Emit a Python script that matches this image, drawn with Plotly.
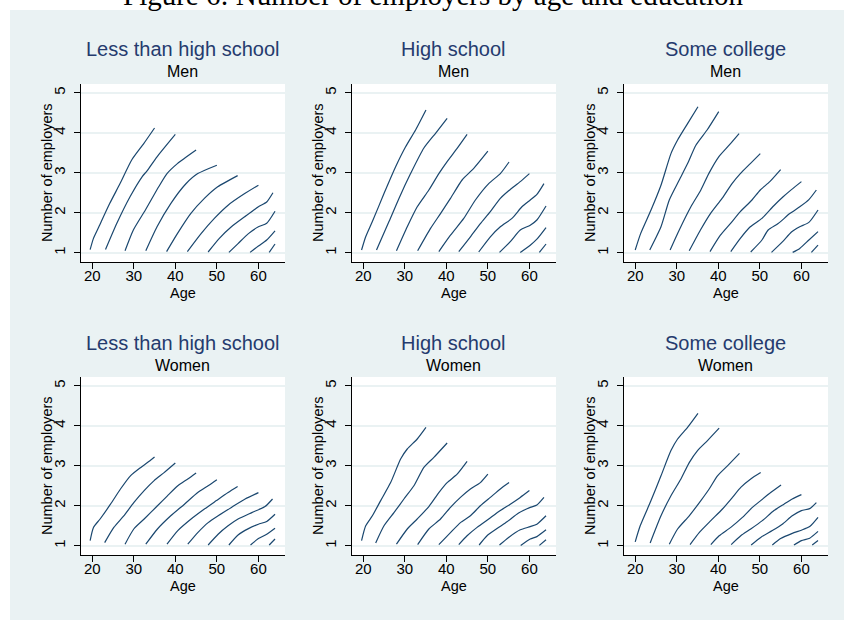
import plotly.graph_objects as go

# ---- data: average number of employers by age, one curve per birth cohort ----
TICK_AGES = [20, 30, 40, 50, 60]
TICK_EMP = [1, 2, 3, 4, 5]

LTHS_MEN_AGE = [
    [19.5, 20.3, 21.6, 24.2, 26.7, 29.5, 32.4, 35.0],
    [23.2, 25.9, 29.1, 32.0, 33.2, 35.6, 40.0],
    [27.9, 29.9, 32.8, 36.0, 38.0, 40.5, 45.0],
    [32.9, 35.6, 38.9, 42.5, 45.4, 50.0],
    [37.9, 40.5, 43.7, 47.0, 50.2, 55.0],
    [42.9, 46.2, 49.4, 52.7, 56.7, 60.0],
    [47.9, 50.6, 53.5, 56.7, 60.0, 62.0, 63.5],
    [52.9, 55.1, 57.6, 60.0, 62.0, 64.0],
    [58.0, 60.0, 62.0, 64.0],
    [62.6, 64.0],
]
LTHS_MEN_EMP = [
    [1.08, 1.36, 1.65, 2.23, 2.73, 3.32, 3.73, 4.12],
    [1.08, 1.73, 2.40, 2.90, 3.05, 3.40, 3.96],
    [1.05, 1.57, 2.07, 2.65, 2.98, 3.23, 3.57],
    [1.05, 1.65, 2.23, 2.72, 2.98, 3.19],
    [1.03, 1.48, 1.98, 2.36, 2.65, 2.93],
    [1.03, 1.48, 1.86, 2.19, 2.48, 2.69],
    [1.02, 1.36, 1.65, 1.90, 2.15, 2.27, 2.50],
    [1.01, 1.23, 1.48, 1.65, 1.74, 2.04],
    [1.01, 1.17, 1.32, 1.55],
    [1.01, 1.22],
]

HS_MEN_AGE = [
    [19.6, 20.6, 22.2, 25.0, 27.8, 30.2, 32.6, 35.1],
    [23.2, 26.2, 28.6, 31.4, 34.6, 37.5, 40.2],
    [28.0, 30.6, 33.0, 35.8, 38.2, 40.2, 42.6, 45.0],
    [33.1, 36.2, 38.6, 41.0, 43.8, 46.6, 50.0],
    [38.2, 41.0, 44.2, 47.0, 50.2, 53.0, 55.1],
    [43.0, 45.8, 48.2, 50.6, 53.0, 55.0, 57.8, 60.0],
    [47.8, 50.6, 53.0, 55.8, 58.2, 60.2, 61.8, 63.5],
    [52.8, 55.4, 57.8, 60.2, 61.8, 64.0],
    [57.8, 60.2, 61.8, 64.0],
    [62.4, 64.0],
]
HS_MEN_EMP = [
    [1.07, 1.40, 1.78, 2.48, 3.15, 3.65, 4.07, 4.57],
    [1.07, 1.78, 2.36, 2.98, 3.62, 4.00, 4.36],
    [1.05, 1.65, 2.15, 2.57, 2.98, 3.28, 3.61, 3.96],
    [1.05, 1.61, 1.98, 2.36, 2.82, 3.11, 3.54],
    [1.03, 1.44, 1.86, 2.32, 2.73, 2.98, 3.27],
    [1.03, 1.40, 1.73, 2.03, 2.36, 2.55, 2.78, 2.98],
    [1.02, 1.40, 1.65, 1.86, 2.15, 2.32, 2.46, 2.73],
    [1.01, 1.28, 1.57, 1.69, 1.82, 2.17],
    [1.01, 1.19, 1.34, 1.63],
    [1.01, 1.22],
]

SC_MEN_AGE = [
    [20.0, 21.3, 23.8, 26.2, 28.6, 30.2, 32.6, 35.1],
    [23.5, 26.2, 28.2, 30.6, 32.6, 34.6, 37.3, 40.1],
    [28.4, 30.6, 33.4, 35.8, 37.7, 40.1, 42.6, 45.0],
    [33.0, 35.7, 38.1, 40.9, 43.3, 45.3, 47.7, 50.1],
    [38.0, 40.5, 42.9, 45.3, 48.1, 50.1, 52.4, 55.0],
    [43.0, 45.3, 47.7, 50.5, 53.3, 55.6, 57.6, 60.0],
    [47.8, 50.5, 52.0, 54.4, 57.2, 59.6, 61.8, 63.6],
    [52.8, 55.6, 57.6, 59.6, 61.8, 64.0],
    [57.9, 59.6, 61.8, 64.0],
    [62.4, 64.0],
]
SC_MEN_EMP = [
    [1.07, 1.48, 2.07, 2.69, 3.48, 3.82, 4.23, 4.65],
    [1.07, 1.65, 2.32, 2.82, 3.23, 3.69, 4.07, 4.53],
    [1.07, 1.57, 2.15, 2.57, 2.98, 3.40, 3.69, 3.98],
    [1.05, 1.57, 1.98, 2.36, 2.73, 2.98, 3.23, 3.48],
    [1.03, 1.44, 1.73, 2.03, 2.32, 2.57, 2.78, 3.08],
    [1.03, 1.36, 1.65, 1.86, 2.17, 2.40, 2.58, 2.78],
    [1.02, 1.32, 1.57, 1.73, 1.98, 2.15, 2.33, 2.57],
    [1.01, 1.29, 1.52, 1.65, 1.76, 2.07],
    [1.01, 1.11, 1.32, 1.53],
    [1.01, 1.19],
]

LTHS_WOMEN_AGE = [
    [19.5, 20.3, 21.9, 24.4, 26.8, 29.2, 31.7, 33.3, 35.0],
    [23.0, 25.2, 27.6, 30.0, 32.5, 34.9, 37.3, 40.0],
    [27.9, 30.0, 32.5, 35.7, 38.1, 40.6, 43.0, 45.0],
    [32.9, 35.7, 38.9, 42.2, 45.4, 47.9, 50.0],
    [38.0, 40.6, 43.8, 47.0, 49.9, 52.7, 55.0],
    [43.0, 45.4, 47.9, 50.3, 53.5, 56.8, 60.0],
    [47.9, 50.3, 52.7, 55.1, 58.4, 61.6, 63.4],
    [52.9, 55.1, 57.6, 60.0, 62.0, 64.0],
    [58.1, 60.0, 62.0, 64.0],
    [62.6, 64.0],
]
LTHS_WOMEN_EMP = [
    [1.13, 1.46, 1.67, 2.04, 2.42, 2.75, 2.96, 3.08, 3.22],
    [1.08, 1.46, 1.75, 2.08, 2.38, 2.63, 2.83, 3.07],
    [1.04, 1.42, 1.67, 2.00, 2.25, 2.50, 2.67, 2.82],
    [1.04, 1.42, 1.75, 2.04, 2.33, 2.50, 2.65],
    [1.04, 1.38, 1.67, 1.92, 2.13, 2.33, 2.48],
    [1.04, 1.33, 1.58, 1.75, 1.96, 2.17, 2.33],
    [1.02, 1.29, 1.50, 1.67, 1.83, 1.98, 2.17],
    [1.02, 1.27, 1.43, 1.54, 1.61, 1.79],
    [1.02, 1.18, 1.29, 1.44],
    [1.02, 1.17],
]

HS_WOMEN_AGE = [
    [19.6, 20.6, 22.2, 24.2, 26.6, 29.0, 30.6, 33.0, 35.1],
    [23.0, 25.0, 27.4, 29.8, 32.2, 34.6, 37.0, 40.2],
    [28.0, 30.6, 33.0, 35.8, 38.2, 40.2, 42.6, 45.0],
    [33.1, 35.8, 38.6, 41.0, 43.4, 45.8, 48.2, 50.0],
    [38.2, 41.0, 43.4, 45.8, 48.2, 50.6, 53.0, 55.1],
    [43.0, 45.0, 47.4, 50.2, 53.0, 55.4, 57.8, 60.0],
    [47.9, 49.8, 52.2, 54.6, 57.4, 60.2, 61.8, 63.5],
    [52.8, 55.0, 57.8, 60.2, 61.8, 64.0],
    [57.9, 60.2, 61.8, 64.0],
    [62.4, 64.0],
]
HS_WOMEN_EMP = [
    [1.13, 1.50, 1.75, 2.13, 2.58, 3.17, 3.42, 3.67, 3.96],
    [1.07, 1.50, 1.83, 2.17, 2.50, 2.96, 3.21, 3.57],
    [1.04, 1.42, 1.67, 1.98, 2.33, 2.58, 2.79, 3.11],
    [1.03, 1.42, 1.67, 1.96, 2.21, 2.42, 2.58, 2.79],
    [1.03, 1.33, 1.58, 1.75, 2.00, 2.21, 2.42, 2.58],
    [1.03, 1.25, 1.46, 1.67, 1.88, 2.04, 2.21, 2.38],
    [1.02, 1.25, 1.43, 1.60, 1.82, 1.96, 2.02, 2.21],
    [1.02, 1.21, 1.40, 1.48, 1.54, 1.75],
    [1.01, 1.17, 1.23, 1.40],
    [1.01, 1.15],
]

SC_WOMEN_AGE = [
    [20.0, 21.2, 23.8, 26.2, 28.6, 30.2, 32.6, 35.1],
    [23.6, 26.2, 28.6, 31.0, 33.0, 35.0, 37.4, 40.2],
    [28.2, 30.2, 33.0, 35.8, 37.8, 39.8, 42.2, 45.1],
    [33.2, 35.4, 38.2, 41.0, 43.4, 45.4, 47.8, 50.2],
    [38.2, 40.2, 43.0, 45.8, 48.2, 50.2, 52.6, 55.1],
    [43.1, 45.4, 47.8, 50.6, 53.4, 55.8, 57.8, 60.0],
    [47.9, 50.2, 53.0, 55.4, 57.8, 60.0, 62.0, 63.6],
    [53.0, 55.0, 57.8, 60.0, 62.0, 64.0],
    [58.2, 60.0, 62.0, 64.0],
    [62.6, 64.0],
]
SC_WOMEN_EMP = [
    [1.10, 1.50, 2.13, 2.75, 3.38, 3.67, 3.96, 4.31],
    [1.07, 1.75, 2.25, 2.67, 3.08, 3.38, 3.63, 3.94],
    [1.04, 1.42, 1.75, 2.13, 2.42, 2.75, 3.00, 3.31],
    [1.03, 1.33, 1.63, 1.92, 2.21, 2.46, 2.67, 2.83],
    [1.03, 1.25, 1.46, 1.71, 1.96, 2.13, 2.33, 2.52],
    [1.03, 1.25, 1.42, 1.63, 1.88, 2.04, 2.17, 2.28],
    [1.02, 1.21, 1.38, 1.54, 1.75, 1.88, 1.93, 2.08],
    [1.02, 1.18, 1.31, 1.39, 1.48, 1.71],
    [1.02, 1.13, 1.19, 1.36],
    [1.02, 1.13],
]

EDUCATION = ["Less than high school", "High school", "Some college"]
SEX = ["Men", "Women"]

PANELS = [
    (LTHS_MEN_AGE, LTHS_MEN_EMP), (HS_MEN_AGE, HS_MEN_EMP), (SC_MEN_AGE, SC_MEN_EMP),
    (LTHS_WOMEN_AGE, LTHS_WOMEN_EMP), (HS_WOMEN_AGE, HS_WOMEN_EMP), (SC_WOMEN_AGE, SC_WOMEN_EMP),
]

# ---- layout geometry (pixels) ----
W, H = 844, 620
COL_PX = [(81, 285), (352, 556), (624, 828)]
ROW_PX = [(84, 262), (377, 555)]

LINE_COLOR = "#1a476f"
TITLE_COLOR = "#253b6e"
GRAPH_BG = "#eaf2f3"
FONT = "Liberation Sans"


def px_x(p):
    return p / W


def px_y(p):
    return 1 - p / H


fig = go.Figure()
layout = dict(
    width=W, height=H,
    margin=dict(l=0, r=0, t=0, b=0),
    paper_bgcolor=GRAPH_BG,
    plot_bgcolor="white",
    showlegend=False,
    font=dict(family=FONT, color="black", size=14),
)
annotations = []

for i, (ages, emps) in enumerate(PANELS):
    r, c = divmod(i, 3)
    k = i + 1
    xa = "x" if k == 1 else f"x{k}"
    ya = "y" if k == 1 else f"y{k}"
    for a, e in zip(ages, emps):
        fig.add_trace(go.Scatter(
            x=a, y=e, mode="lines", xaxis=xa, yaxis=ya,
            line=dict(color=LINE_COLOR, width=1.2, shape="spline", smoothing=0.6),
            hoverinfo="skip",
        ))
    x0, x1 = COL_PX[c]
    y0, y1 = ROW_PX[r]
    layout[f"xaxis{'' if k == 1 else k}"] = dict(
        domain=[px_x(x0), px_x(x1)], anchor=ya, range=[17.3, 66.4],
        tickvals=TICK_AGES, ticks="outside", ticklen=6, tickwidth=1, tickcolor="#000",
        showline=True, linecolor="#000", linewidth=1, showgrid=False, zeroline=False,
        tickfont=dict(size=15), ticklabelstandoff=-6,
    )
    layout[f"yaxis{'' if k == 1 else k}"] = dict(
        domain=[px_y(y1), px_y(y0)], anchor=xa, range=[0.77, 5.22],
        tickvals=TICK_EMP, ticks="outside", ticklen=6, tickwidth=1, tickcolor="#000",
        showline=True, linecolor="#000", linewidth=1, showgrid=True,
        gridcolor=GRAPH_BG, gridwidth=1.5, zeroline=False,
        tickangle=-90, tickfont=dict(size=15), ticklabelstandoff=3,
    )
    cx = (x0 + x1) / 2 - 1
    title_y = 49 if r == 0 else 343
    sub_y = 72 if r == 0 else 365
    annotations.append(dict(text=EDUCATION[c], x=px_x(cx), y=px_y(title_y), xref="paper", yref="paper",
                            xanchor="center", yanchor="middle", showarrow=False,
                            font=dict(size=20, color=TITLE_COLOR, family=FONT)))
    annotations.append(dict(text=SEX[r], x=px_x(cx), y=px_y(sub_y), xref="paper", yref="paper",
                            xanchor="center", yanchor="middle", showarrow=False,
                            font=dict(size=16, color="black", family=FONT)))
    annotations.append(dict(text="Age", x=px_x(cx + 1), y=px_y(y1 + 31), xref="paper", yref="paper",
                            xanchor="center", yanchor="middle", showarrow=False,
                            font=dict(size=14.5, color="black", family=FONT)))
    annotations.append(dict(text="Number of employers", x=px_x(x0 - 34), y=px_y((y0 + y1) / 2),
                            xref="paper", yref="paper", xanchor="center", yanchor="middle",
                            textangle=-90, showarrow=False,
                            font=dict(size=14.5, color="black", family=FONT)))

# figure caption above the graph region
annotations.append(dict(text="Figure 6: Number of employers by age and education",
                        x=px_x(433), y=px_y(13), xref="paper", yref="paper",
                        xanchor="center", yanchor="bottom", showarrow=False,
                        font=dict(size=29, color="black", family="Liberation Serif")))

layout["annotations"] = annotations
# white page margin around the shaded graph region
layout["shapes"] = [
    dict(type="rect", xref="paper", yref="paper", x0=0, x1=1, y0=px_y(10), y1=1.02,
         fillcolor="white", line=dict(width=0), layer="above"),
    dict(type="rect", xref="paper", yref="paper", x0=-0.01, x1=px_x(10), y0=-0.01, y1=1.02,
         fillcolor="white", line=dict(width=0), layer="above"),
]
fig.update_layout(**layout)
fig.write_html("out.html")
